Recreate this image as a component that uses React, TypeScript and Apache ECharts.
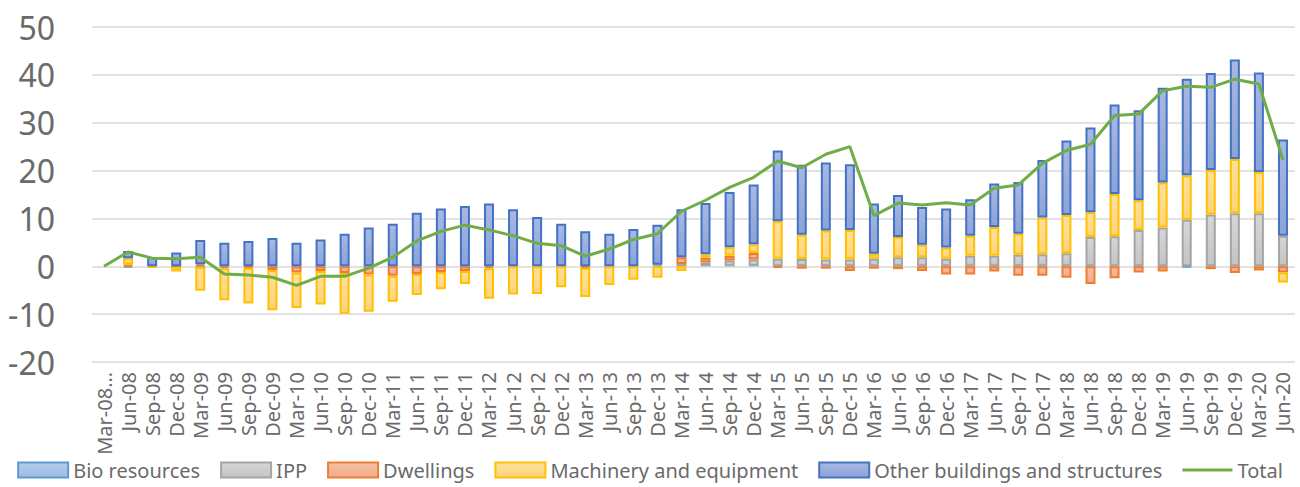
import React, { useEffect, useRef } from "react";
import * as echarts from "echarts";

const categories = [
  "Mar-08…", "Jun-08", "Sep-08", "Dec-08", "Mar-09", "Jun-09", "Sep-09", "Dec-09",
  "Mar-10", "Jun-10", "Sep-10", "Dec-10", "Mar-11", "Jun-11", "Sep-11", "Dec-11",
  "Mar-12", "Jun-12", "Sep-12", "Dec-12", "Mar-13", "Jun-13", "Sep-13", "Dec-13",
  "Mar-14", "Jun-14", "Sep-14", "Dec-14", "Mar-15", "Jun-15", "Sep-15", "Dec-15",
  "Mar-16", "Jun-16", "Sep-16", "Dec-16", "Mar-17", "Jun-17", "Sep-17", "Dec-17",
  "Mar-18", "Jun-18", "Sep-18", "Dec-18", "Mar-19", "Jun-19", "Sep-19", "Dec-19",
  "Mar-20", "Jun-20",
];

const bio: (number | null)[] = [
  null, null, null, null, null, null, null, null, null, null,
  null, null, null, null, null, null, null, null, null, null,
  null, null, null, null, null, null, null, null, null, null,
  null, null, null, null, null, null, null, null, null, null,
  null, null, null, null, null, -0.2, null, null, null, null,
];

const ipp: (number | null)[] = [
  null, -0.3, null, null, -0.1, null, null, null, null, null,
  null, null, null, null, null, null, null, null, null, null,
  null, null, null, 0.3, 0.5, 0.8, 1.2, 1.4, 1.6, 1.5,
  1.4, 1.4, 1.6, 1.9, 1.9, 1.6, 2.2, 2.2, 2.4, 2.5,
  2.7, 6.1, 6.3, 7.6, 8.1, 9.7, 10.8, 11.1, 11.1, 6.4,
];

const dwellings: (number | null)[] = [
  null, 0.3, null, -0.1, 0.4, -0.4, -0.3, -0.8, -1.3, -1.0,
  -1.4, -1.7, -2.0, -1.6, -1.2, -1.0, -0.4, null, null, null,
  -0.3, null, null, null, 1.4, 1.0, 1.0, 1.4, -0.3, -0.5,
  -0.5, -1.0, -0.5, -0.6, -1.0, -1.7, -1.7, -1.1, -2.0, -2.0,
  -2.4, -3.7, -2.5, -1.3, -1.1, null, -0.6, -1.4, -0.9, -1.3,
];

const machinery: (number | null)[] = [
  null, 1.4, -0.3, -1.0, -5.0, -6.7, -7.5, -8.4, -7.4, -7.0,
  -8.5, -7.8, -5.4, -4.4, -3.6, -2.7, -6.4, -5.9, -5.8, -4.4,
  -6.1, -3.9, -2.8, -2.4, -1.0, 0.7, 1.8, 1.8, 7.8, 5.1,
  6.1, 6.2, 1.0, 4.2, 2.6, 2.3, 4.2, 6.0, 4.4, 7.7,
  8.0, 5.2, 8.8, 6.2, 9.4, 9.3, 9.3, 11.3, 8.6, -2.1,
];

const otherBuildings: (number | null)[] = [
  null, 1.5, 1.9, 2.9, 5.1, 4.9, 5.3, 5.9, 4.9, 5.6,
  6.8, 8.1, 8.9, 11.2, 12.1, 12.6, 13.1, 11.9, 10.3, 8.9,
  7.3, 6.8, 7.8, 8.4, 10.0, 10.7, 11.5, 12.5, 14.8, 14.6,
  14.2, 13.7, 10.5, 8.8, 7.9, 8.2, 7.6, 9.1, 10.8, 12.0,
  15.6, 17.7, 18.7, 18.8, 19.8, 20.2, 20.3, 20.8, 20.8, 20.1,
];

const total: number[] = [
  0, 3.0, 1.7, 1.6, 1.9, -1.6, -1.8, -2.3, -4.0, -2.1,
  -2.1, -0.4, 1.9, 5.3, 7.3, 8.6, 7.6, 6.4, 4.8, 4.3,
  2.1, 3.6, 5.6, 6.8, 11.5, 13.8, 16.5, 18.6, 22.0, 20.6,
  23.4, 25.0, 10.6, 13.2, 12.8, 13.3, 12.8, 16.3, 17.0, 21.5,
  24.2, 25.5, 31.5, 31.8, 36.7, 37.6, 37.4, 39.1, 38.1, 22.2,
];

const yTicks = { min: -20, max: 50, interval: 10 };

function grad(top: string, bottom: string) {
  return new echarts.graphic.LinearGradient(0, 0, 0, 1, [
    { offset: 0, color: top },
    { offset: 1, color: bottom },
  ]);
}

export default function App() {
  const ref = useRef<HTMLDivElement>(null);

  useEffect(() => {
    if (!ref.current) return;
    const chart = echarts.init(ref.current, undefined, { renderer: "svg" });
    const barBase = {
      type: "bar" as const,
      stack: "s",
      barWidth: 10,
    };
    chart.setOption({
      animation: false,
      textStyle: { fontFamily: "Noto Sans" },
      grid: { left: 92, right: 5, top: 27, bottom: 125, containLabel: false },
      legend: {
        bottom: 2,
        left: "center",
        itemWidth: 50,
        itemHeight: 15,
        itemGap: 20,
        textStyle: { color: "#6a6a6a", fontSize: 20, fontFamily: "Noto Sans" },
        data: [
          { name: "Bio resources", icon: "rect" },
          { name: "IPP", icon: "rect" },
          { name: "Dwellings", icon: "rect" },
          { name: "Machinery and equipment", icon: "rect" },
          { name: "Other buildings and structures", icon: "rect" },
          { name: "Total", icon: "path://M0,0 H50 V3 H0 Z" },
        ],
      },
      xAxis: {
        type: "category",
        data: categories,
        axisLine: { show: false, onZero: false },
        axisTick: { show: false },
        axisLabel: {
          rotate: 90,
          interval: 0,
          color: "#6a6a6a",
          fontSize: 20,
          margin: 10,
          fontFamily: "Noto Sans",
        },
      },
      yAxis: {
        type: "value",
        min: yTicks.min,
        max: yTicks.max,
        interval: yTicks.interval,
        axisLine: { show: false },
        axisTick: { show: false },
        splitLine: { lineStyle: { color: "#d9d9d9", width: 1.5 } },
        axisLabel: {
          color: "#6a6a6a",
          fontSize: 32,
          margin: 37,
          fontFamily: "Noto Sans",
        },
      },
      series: [
        {
          ...barBase,
          name: "Bio resources",
          data: bio,
          itemStyle: { color: grad("#b3cdea", "#9dbde4"), borderColor: "#5B9BD5", borderWidth: 2 },
        },
        {
          ...barBase,
          name: "IPP",
          data: ipp,
          itemStyle: { color: grad("#d6d6d6", "#c4c4c4"), borderColor: "#A5A5A5", borderWidth: 2 },
        },
        {
          ...barBase,
          name: "Dwellings",
          data: dwellings,
          itemStyle: { color: grad("#f7c0a6", "#f2aa88"), borderColor: "#ED7D31", borderWidth: 2 },
        },
        {
          ...barBase,
          name: "Machinery and equipment",
          data: machinery,
          itemStyle: { color: grad("#ffe09c", "#ffd47a"), borderColor: "#FFC000", borderWidth: 2 },
        },
        {
          ...barBase,
          name: "Other buildings and structures",
          data: otherBuildings,
          itemStyle: { color: grad("#a8b8e2", "#8ba3d8"), borderColor: "#4472C4", borderWidth: 2 },
        },
        {
          type: "line",
          name: "Total",
          data: total,
          symbol: "none",
          lineStyle: { color: "#70AD47", width: 3 },
          itemStyle: { color: "#70AD47" },
          z: 5,
        },
      ],
    });
    return () => chart.dispose();
  }, []);

  return (
    <div
      ref={ref}
      style={{ position: "absolute", left: 0, top: 0, width: 1300, height: 487 }}
    />
  );
}
